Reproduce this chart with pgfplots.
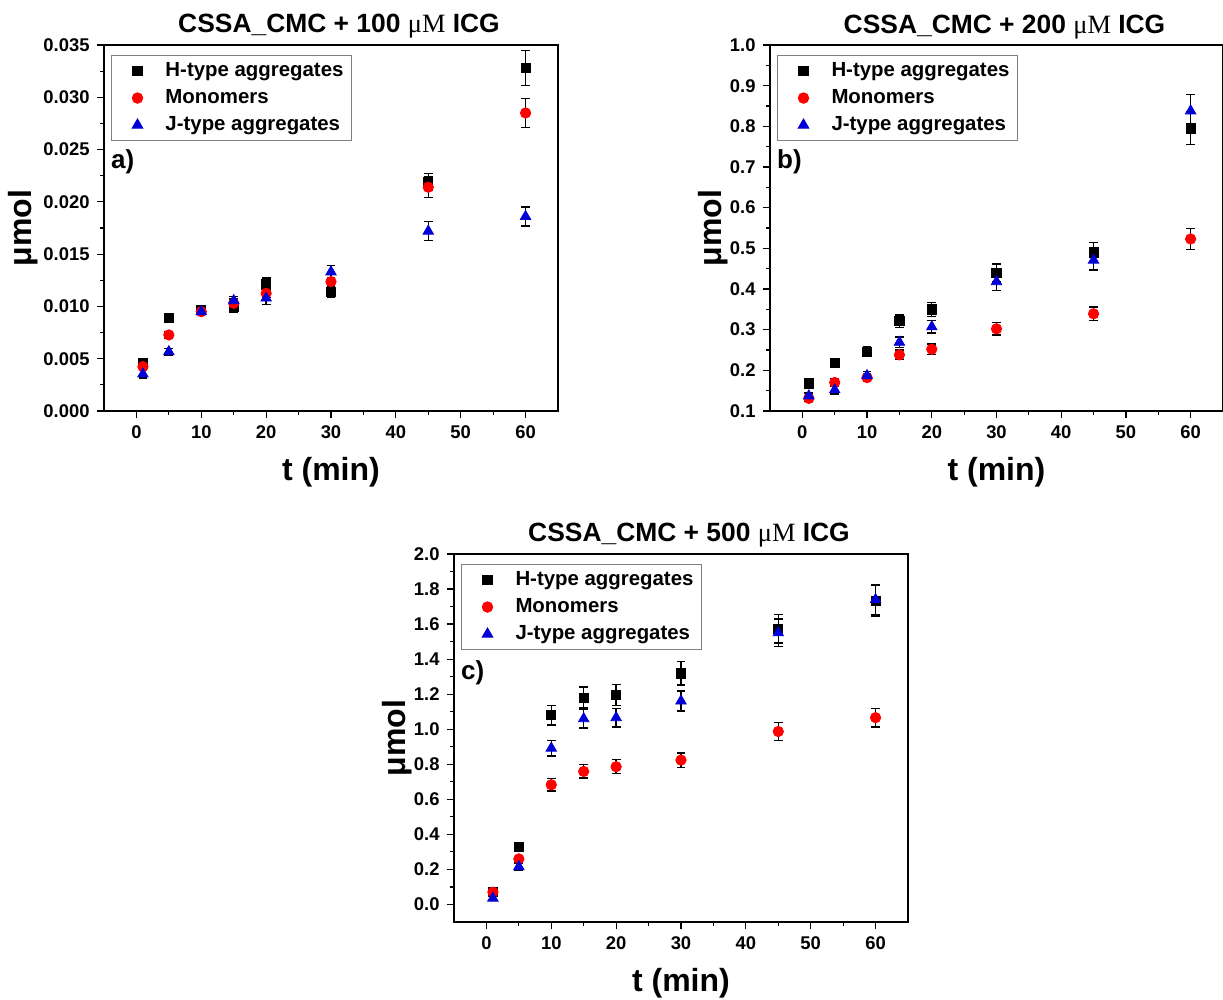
\documentclass[border=0pt]{standalone}
\usepackage{fontspec}
\setmainfont{Liberation Sans}
\newfontfamily\serifmu{Liberation Serif}
\usepackage{pgfplots}
\usepackage{pgfplotstable}
\pgfplotsset{compat=1.18}
\definecolor{jblue}{RGB}{0,0,215}

% t, value, error for H-type / monomers / J-type
\pgfplotstableread{
t  H       eH      M       eM      J       eJ
1  0.00456 0.0004  0.00424 0.0003  0.00354 0.0004
5  0.00893 0.0003  0.00727 0.0003  0.00567 0.0003
10 0.00966 0.0003  0.00950 0.0003  0.00950 0.0003
15 0.00998 0.0005  0.01030 0.0004  0.01055 0.0004
20 0.01210 0.0006  0.01125 0.0004  0.01080 0.0006
30 0.01140 0.0005  0.01237 0.0004  0.01330 0.0006
45 0.02190 0.0008  0.02140 0.0010  0.01720 0.0009
60 0.03280 0.0017  0.02850 0.0014  0.01860 0.0009
}\tabA
\pgfplotstableread{
t  H     eH    M     eM    J     eJ
1  0.168 0.008 0.131 0.006 0.137 0.007
5  0.219 0.010 0.170 0.010 0.152 0.010
10 0.246 0.011 0.182 0.010 0.187 0.010
15 0.321 0.015 0.238 0.012 0.269 0.013
20 0.350 0.017 0.252 0.013 0.307 0.015
30 0.440 0.021 0.302 0.015 0.418 0.021
45 0.490 0.024 0.339 0.017 0.471 0.024
60 0.795 0.040 0.523 0.026 0.838 0.040
}\tabB
\pgfplotstableread{
t  H     eH    M     eM    J     eJ
1  0.070 0.010 0.070 0.010 0.036 0.012
5  0.330 0.010 0.260 0.013 0.216 0.020
10 1.080 0.055 0.683 0.035 0.892 0.045
15 1.180 0.060 0.759 0.038 1.060 0.053
20 1.194 0.060 0.786 0.040 1.066 0.053
30 1.319 0.066 0.824 0.041 1.161 0.058
45 1.573 0.080 0.987 0.050 1.550 0.078
60 1.734 0.087 1.066 0.053 1.740 0.087
}\tabC

\pgfplotsset{
  panel/.style={
    scale only axis, width=227pt, height=183pt,
    anchor=south west,
    xmin=-5, xmax=65, xtick={0,10,...,60},
    minor x tick num=1, minor y tick num=1,
    tick align=outside, tick pos=left,
    major tick length=3.7pt, minor tick length=2pt,
    every tick/.style={black, line width=0.6pt},
    axis line style={line width=0.6pt},
    ticklabel style={font=\bfseries\fontsize{9.2}{10}\selectfont},
    /pgf/number format/assume math mode=true,
    xlabel={t (min)}, ylabel={μmol},
    label style={font=\bfseries\fontsize{16}{18}\selectfont},
    xlabel shift=2.5pt, ylabel shift=-4pt,
    title style={font=\bfseries\fontsize{13.2}{15}\selectfont, at={(axis description cs:0.5,1)}, anchor=base, xshift=4pt},
    legend style={at={(0,1)}, anchor=north west, xshift=3.5pt, yshift=-5pt,
      draw=gray, line width=0.5pt, font=\bfseries\fontsize{10.2}{12}\selectfont,
      inner xsep=2pt, inner ysep=1.5pt, row sep=1pt},
    legend cell align=left,
    legend image code/.code={\path[draw=none,fill=none] (0pt,0pt) -- (23pt,0pt); \draw plot coordinates {(11pt,0pt)};},
    error bars/y dir=both, error bars/y explicit,
    error bars/error bar style={black, line width=0.7pt},
    error bars/error mark options={rotate=90, black, mark size=2.2pt, line width=0.7pt},
  },
  hser/.style={only marks, mark=square*, mark size=2.3pt, mark options={draw=black, fill=black}},
  mser/.style={only marks, mark=*, mark size=2.6pt, mark options={draw=red, fill=red}},
  jser/.style={only marks, mark=triangle*, mark size=3pt, mark options={draw=jblue, fill=jblue}},
}

\begin{document}
\begin{tikzpicture}
\useasboundingbox (0,0) rectangle (611.5pt,500pt);

\begin{axis}[panel, at={(52pt,294.5pt)},
  ymin=0, ymax=0.035, ytick={0,0.005,...,0.0351},
  yticklabel style={/pgf/number format/fixed, /pgf/number format/fixed zerofill, /pgf/number format/precision=3},
  scaled y ticks=false,
  title={CSSA\_CMC + 100 {\serifmu\mdseries μM} ICG}]
\addplot+[hser] table[x=t, y=H, y error=eH] {\tabA};
\addplot+[mser] table[x=t, y=M, y error=eM] {\tabA};
\addplot+[jser] table[x=t, y=J, y error=eJ] {\tabA};
\legend{H-type aggregates, Monomers, J-type aggregates}
\node[anchor=west, font=\bfseries\fontsize{13}{15}\selectfont, inner sep=0pt] at (rel axis cs:0.015,0.68) {a)};
\end{axis}

\begin{axis}[panel, at={(385pt,294.5pt)}, width=226.5pt,
  ymin=0.1, ymax=1.0, ytick={0.1,0.2,...,1.01},
  yticklabel style={/pgf/number format/fixed, /pgf/number format/fixed zerofill, /pgf/number format/precision=1},
  ylabel shift=-6pt,
  title={CSSA\_CMC + 200 {\serifmu\mdseries μM} ICG}]
\addplot+[hser] table[x=t, y=H, y error=eH] {\tabB};
\addplot+[mser] table[x=t, y=M, y error=eM] {\tabB};
\addplot+[jser] table[x=t, y=J, y error=eJ] {\tabB};
\legend{H-type aggregates, Monomers, J-type aggregates}
\node[anchor=west, font=\bfseries\fontsize{13}{15}\selectfont, inner sep=0pt] at (rel axis cs:0.015,0.68) {b)};
\end{axis}

\begin{axis}[panel, at={(227pt,39pt)}, height=184pt,
  ymin=-0.1, ymax=2.0, ytick={0,0.2,...,2.01},
  yticklabel style={/pgf/number format/fixed, /pgf/number format/fixed zerofill, /pgf/number format/precision=1},
  ylabel shift=-6pt,
  title={CSSA\_CMC + 500 {\serifmu\mdseries μM} ICG}]
\addplot+[hser] table[x=t, y=H, y error=eH] {\tabC};
\addplot+[mser] table[x=t, y=M, y error=eM] {\tabC};
\addplot+[jser] table[x=t, y=J, y error=eJ] {\tabC};
\legend{H-type aggregates, Monomers, J-type aggregates}
\node[anchor=west, font=\bfseries\fontsize{13}{15}\selectfont, inner sep=0pt] at (rel axis cs:0.015,0.677) {c)};
\end{axis}
\end{tikzpicture}
\end{document}
